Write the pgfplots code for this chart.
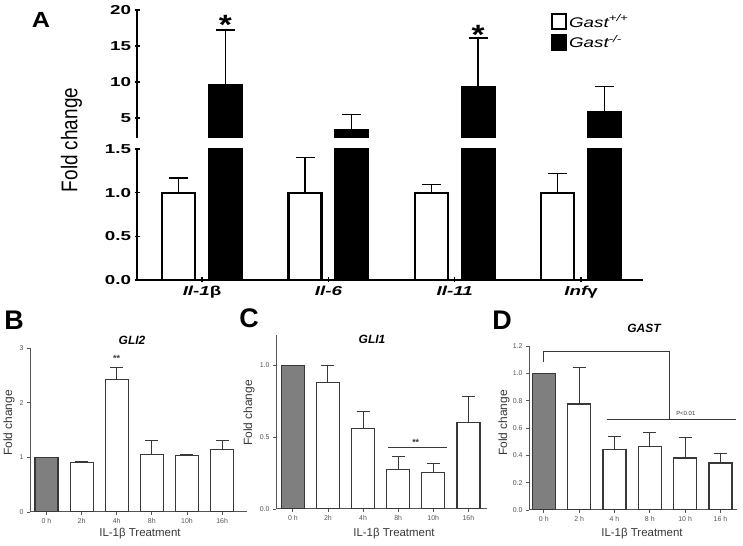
\documentclass[border=0pt]{standalone}
\usepackage{graphicx}
\usepackage{pgfplots}
\pgfplotsset{compat=1.18}
\usepackage{pgfplotstable}
\usepackage{fontspec}
\setmainfont{Liberation Sans}
\definecolor{dk}{HTML}{383838}
\definecolor{gf}{HTML}{7F7F7F}
\definecolor{ax}{HTML}{555555}
\newcommand{\sA}[1]{\scalebox{1.45}[1]{#1}}

% Panel A
\pgfplotstableread{
x y e
-0.185 1 0.17
0.815 1 0.40
1.815 1 0.09
2.815 1 0.22
}\Awt
\pgfplotstableread{
x y e
0.185 9.6 7.6
1.185 3.3 2.2
2.185 9.3 6.8
3.185 5.8 3.6
}\Ako
% Panel B
\pgfplotstableread{
x y
0 1.0
}\Bzero
\pgfplotstableread{
x y e
1 0.91 0.01
2 2.43 0.22
3 1.055 0.25
4 1.03 0.03
5 1.14 0.17
}\Brest
% Panel C
\pgfplotstableread{
x y
0 1.0
}\Czero
\pgfplotstableread{
x y e
1 0.88 0.12
2 0.56 0.12
3 0.277 0.087
4 0.255 0.06
5 0.60 0.18
}\Crest
% Panel D
\pgfplotstableread{
x y
0 1.0
}\Dzero
\pgfplotstableread{
x y e
1 0.775 0.265
2 0.44 0.096
3 0.463 0.107
4 0.38 0.15
5 0.344 0.066
}\Drest

\pgfplotsset{
  Abar/.style={ybar, bar width=33bp, bar shift=0pt, draw=black, line width=2.2bp,
    error bars/y dir=plus, error bars/y explicit,
    error bars/error bar style={line width=1.4bp, black},
    error bars/error mark options={rotate=90, line width=1.4bp, black, mark size=9.5bp}},
  Aaxis/.style={scale only axis, anchor=south west, width=506bp, xmin=-0.515, xmax=3.49,
    tick align=outside, major tick length=5bp,
    tick style={line width=1.4bp, black},
    tick label style={font=\fontsize{13}{15}\selectfont\bfseries}},
  Aline/.style={axis line style={-, line width=1.4bp, black}},
  Sbar0/.style={ybar, bar width=23bp, bar shift=0pt, draw=dk, line width=1.2bp},
  Sbar/.style={ybar, bar width=23bp, bar shift=0pt, draw=dk, line width=1.2bp,
    error bars/y dir=plus, error bars/y explicit,
    error bars/error bar style={line width=1bp, dk},
    error bars/error mark options={rotate=90, line width=1bp, dk, mark size=6.5bp}},
  Saxis/.style={scale only axis, anchor=south west, ymin=0,
    axis x line=bottom, axis y line=left, axis line style={-, ax, line width=1bp},
    tick align=outside, major tick length=3bp, tick style={ax, line width=0.8bp},
    tick label style={font=\fontsize{7}{8}\selectfont, text=ax}, xtick={0,...,5}},
}

\begin{document}
\begin{tikzpicture}[x=1bp,y=1bp]
\useasboundingbox (0,0) rectangle (743,546);

% ---------- Panel A lower ----------
\begin{axis}[Aaxis, at={(137bp,266bp)}, height=131bp, ymin=0, ymax=1.5,
  axis x line=bottom, axis y line=left, Aline,
  xtick={0,1,2,3},
  xticklabels={{\sA{\itshape Il-1{\upshape β}}},{\sA{\itshape Il-6}},{\sA{\itshape Il-11}},{\sA{\itshape Inf{\upshape γ}}}},
  ytick={0,0.5,1,1.5},
  yticklabels={\sA{0.0},\sA{0.5},\sA{1.0},\sA{1.5}}]
\addplot[Abar, fill=white] table[x=x,y=y,y error=e] {\Awt};
\addplot[Abar, fill=black] table[x=x,y=y,y error=e] {\Ako};
\end{axis}

% ---------- Panel A upper ----------
\begin{axis}[Aaxis, at={(137bp,408bp)}, height=128bp, ymin=2.22, ymax=20,
  axis x line=none, axis y line=left, Aline, xtick=\empty,
  ytick={5,10,15,20},
  yticklabels={\sA{5},\sA{10},\sA{15},\sA{20}},
  legend style={at={(0.812,0.995)}, anchor=north west, draw=none, fill=none,
    row sep=3bp, font=\fontsize{14}{16}\selectfont},
  legend cell align=left,
  legend image code/.code={\draw[#1, line width=2bp] (0bp,-7.5bp) rectangle (14bp,7.5bp);}]
\addlegendimage{draw=black, fill=white}
\addlegendentry{\scalebox{1.35}[1]{\itshape Gast\textsuperscript{+/+}}}
\addlegendimage{draw=black, fill=black}
\addlegendentry{\scalebox{1.35}[1]{\itshape Gast\textsuperscript{-/-}}}
\addplot[Abar, fill=black, forget plot] table[x=x,y=y,y error=e] {\Ako};
\node[font=\fontsize{28}{30}\selectfont\bfseries, anchor=base] at (axis cs:0.185,16.6) {\scalebox{1.2}[1]{*}};
\node[font=\fontsize{28}{30}\selectfont\bfseries, anchor=base] at (axis cs:2.185,15.2) {\scalebox{1.2}[1]{*}};
\end{axis}

\node[font=\fontsize{22}{24}\selectfont\bfseries] at (41,526) {\scalebox{1.15}[1]{A}};
\node[rotate=90, font=\fontsize{19}{22}\selectfont] at (71.5,406) {\scalebox{1}[1.2]{Fold change}};

% ---------- Panel B ----------
\begin{axis}[Saxis, at={(30bp,34bp)}, width=217bp, height=164bp,
  xmin=-0.47, xmax=5.71, ymax=3,
  xticklabels={0 h,2h,4h,8h,10h,16h},
  ytick={0,1,2,3}, yticklabels={0,1,2,3}]
\addplot[Sbar0, fill=gf] table[x=x,y=y] {\Bzero};
\addplot[Sbar, fill=white] table[x=x,y=y,y error=e] {\Brest};
\node[font=\fontsize{9}{10}\selectfont\bfseries, text=dk, anchor=south] at (axis cs:2,2.68) {**};
\end{axis}
\node[font=\fontsize{27}{29}\selectfont\bfseries] at (14,226) {B};
\node[font=\fontsize{12}{14}\selectfont\bfseries\itshape] at (132,206) {GLI2};
\node[rotate=90, font=\fontsize{12}{14}\selectfont, text=dk] at (9,123) {Fold change};
\node[font=\fontsize{11.5}{13}\selectfont, text=dk] at (140,12) {IL-1β Treatment};

% ---------- Panel C ----------
\begin{axis}[Saxis, at={(276bp,37bp)}, width=211bp, height=174bp,
  xmin=-0.48, xmax=5.53, ymax=1.21,
  xticklabels={0 h,2h,4h,8h,10h,16h},
  ytick={0,0.5,1}, yticklabels={0.0,0.5,1.0}]
\addplot[Sbar0, fill=gf] table[x=x,y=y] {\Czero};
\addplot[Sbar, fill=white] table[x=x,y=y,y error=e] {\Crest};
\addplot[dk, line width=1bp] coordinates {(2.71,0.425) (4.39,0.425)};
\node[font=\fontsize{9}{10}\selectfont\bfseries, text=dk, anchor=south] at (axis cs:3.5,0.415) {**};
\end{axis}
\node[font=\fontsize{27}{29}\selectfont\bfseries] at (249,228) {C};
\node[font=\fontsize{12}{14}\selectfont\bfseries\itshape] at (372,207) {GLI1};
\node[rotate=90, font=\fontsize{12}{14}\selectfont, text=dk] at (249,133) {Fold change};
\node[font=\fontsize{11.5}{13}\selectfont, text=dk] at (394,12) {IL-1β Treatment};

% ---------- Panel D ----------
\begin{axis}[Saxis, at={(529bp,36bp)}, width=208bp, height=164bp,
  xmin=-0.42, xmax=5.47, ymax=1.2,
  xticklabels={0 h,2 h,4 h,8 h,10 h,16 h},
  ytick={0,0.2,0.4,0.6,0.8,1.0,1.2}, yticklabels={0.0,0.2,0.4,0.6,0.8,1.0,1.2}]
\addplot[Sbar0, fill=gf] table[x=x,y=y] {\Dzero};
\addplot[Sbar, fill=white] table[x=x,y=y,y error=e] {\Drest};
\addplot[dk, line width=1bp] coordinates {(0,1.085) (0,1.163) (3.57,1.163) (3.57,0.66)};
\addplot[dk, line width=1bp] coordinates {(1.78,0.66) (5.44,0.66)};
\node[font=\fontsize{6}{7}\selectfont, text=dk, anchor=south] at (axis cs:4.02,0.665) {P<0.01};
\end{axis}
\node[font=\fontsize{27}{29}\selectfont\bfseries] at (502,226) {D};
\node[font=\fontsize{12}{14}\selectfont\bfseries\itshape] at (644,218) {GAST};
\node[rotate=90, font=\fontsize{12}{14}\selectfont, text=dk] at (504,123) {Fold change};
\node[font=\fontsize{11.5}{13}\selectfont, text=dk] at (642,12) {IL-1β Treatment};
\end{tikzpicture}
\end{document}
